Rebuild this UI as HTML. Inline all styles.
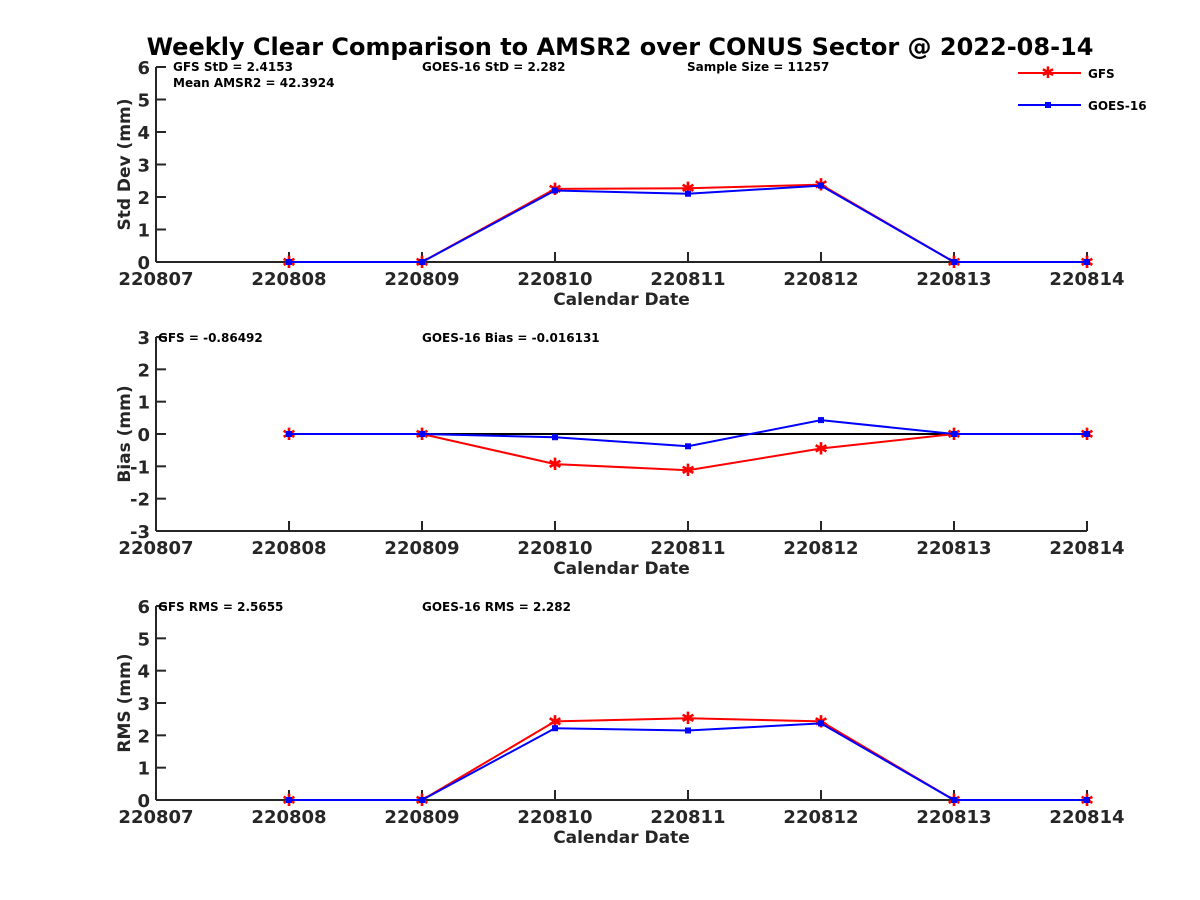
<!DOCTYPE html>
<html><head><meta charset="utf-8">
<style>
html,body{margin:0;padding:0;background:#fff;}
svg{display:block;font-family:"DejaVu Sans","Liberation Sans",sans-serif;font-weight:bold;}
</style></head>
<body>
<svg id="chart" width="1200" height="900" viewBox="0 0 1200 900">
<text x="620" y="55" text-anchor="middle" font-size="24" fill="#000">Weekly Clear Comparison to AMSR2 over CONUS Sector @ 2022-08-14</text>
<g>
<g>
<line x1="1018" y1="73" x2="1081" y2="73" stroke="#f00" stroke-width="2"/>
<text x="1048" y="78" text-anchor="middle" font-size="16" fill="#f00">✱</text>
<text x="1088" y="78" font-size="12" fill="#000">GFS</text>
</g>
<g>
<line x1="1018" y1="105" x2="1081" y2="105" stroke="#00f" stroke-width="2"/>
<rect x="1045" y="102" width="6" height="6" fill="#00f"/>
<text x="1088" y="110" font-size="12" fill="#000">GOES-16</text>
</g>
</g>
</svg>
<script>
const categories = ["220807","220808","220809","220810","220811","220812","220813","220814"];
const pointDates = ["220808","220809","220810","220811","220812","220813","220814"];
const stdGFS = [0,0,2.25,2.27,2.38,0,0];
const stdGOES = [0,0,2.2,2.1,2.35,0,0];
const biasGFS = [0,0,-0.93,-1.12,-0.45,0,0];
const biasGOES = [0,0,-0.1,-0.38,0.43,0,0];
const rmsGFS = [0,0,2.43,2.53,2.43,0,0];
const rmsGOES = [0,0,2.22,2.15,2.37,0,0];
const stdTicks = [0,1,2,3,4,5,6];
const biasTicks = [-3,-2,-1,0,1,2,3];
const rmsTicks = [0,1,2,3,4,5,6];

const NS = "http://www.w3.org/2000/svg";
const svg = document.getElementById('chart');
const X0 = 156, X1 = 1087;
function xScale(d){ return X0 + categories.indexOf(d) * (X1 - X0) / (categories.length - 1); }
function mk(tag, attrs, parent){ const e = document.createElementNS(NS, tag); for (const k in attrs) e.setAttribute(k, attrs[k]); (parent||svg).appendChild(e); return e; }

function panel(name, top, bottom, ymin, ymax, ticks, ylabel, gfs, goes, notes, zeroLine){
  const g = mk('g', {});
  
  
  const y = v => bottom - (v - ymin) / (ymax - ymin) * (bottom - top);
  const ax = '#262626';
  const ya = mk('line', {x1:X0, y1:top, x2:X0, y2:bottom, stroke:ax, 'stroke-width':2}, g);
  
  
  const xa = mk('line', {x1:X0, y1:bottom, x2:X1, y2:bottom, stroke:ax, 'stroke-width':2}, g);
  
  
  ticks.forEach(t => {
    mk('line', {x1:X0, y1:y(t), x2:X0+10, y2:y(t), stroke:ax, 'stroke-width':2}, g);
    const tl = mk('text', {x:X0-6, y:y(t)+7, 'text-anchor':'end', 'font-size':18, fill:ax}, g);
    tl.textContent = t;
    
    
  });
  categories.forEach(c => {
    mk('line', {x1:xScale(c), y1:bottom, x2:xScale(c), y2:bottom-10, stroke:ax, 'stroke-width':2}, g);
    const tl = mk('text', {x:xScale(c), y:bottom+23, 'text-anchor':'middle', 'font-size':18, fill:ax}, g);
    tl.textContent = c;
    
    
  });
  const xt = mk('text', {x:(X0+X1)/2, y:bottom+43, 'text-anchor':'middle', 'font-size':17, fill:ax}, g);
  xt.textContent = 'Calendar Date';
  
  
  const cy = (top+bottom)/2;
  const yt = mk('text', {x:130, y:cy, 'text-anchor':'middle', 'font-size':17, fill:ax, transform:`rotate(-90 130 ${cy})`}, g);
  yt.textContent = ylabel;
  
  
  if (zeroLine){
    const z = mk('line', {x1:xScale(pointDates[0]), y1:y(0), x2:X1, y2:y(0), stroke:'#000', 'stroke-width':2}, g);
    
    
  }
  const series = [[gfs,'#f00','gfs'],[goes,'#00f','goes16']];
  series.forEach(([vals,col,sn]) => {
    const pts = vals.map((v,i) => xScale(pointDates[i]) + ',' + y(v)).join(' ');
    const pl = mk('polyline', {points:pts, fill:'none', stroke:col, 'stroke-width':2}, g);
    
    
    vals.forEach((v,i) => {
      const px = xScale(pointDates[i]), py = y(v);
      let m;
      if (sn === 'gfs'){
        m = mk('text', {x:px, y:py+6, 'text-anchor':'middle', 'font-size':17, fill:col}, g);
        m.textContent = '✱';
      } else {
        m = mk('rect', {x:px-3, y:py-3, width:6, height:6, fill:col}, g);
      }
      
      
    });
  });
  notes.forEach(n => {
    const t = mk('text', {x:n[0], y:n[1], 'font-size':12, fill:'#000'}, g);
    t.textContent = n[2];
    
    
  });
}
panel('std', 67, 262, 0, 6, stdTicks, 'Std Dev (mm)', stdGFS, stdGOES,
  [[173,71,'GFS StD = 2.4153'],[173,87,'Mean AMSR2 = 42.3924'],[422,71,'GOES-16 StD = 2.282'],[687,71,'Sample Size = 11257']], false);
panel('bias', 337, 531, -3, 3, biasTicks, 'Bias (mm)', biasGFS, biasGOES,
  [[158,342,'GFS = -0.86492'],[422,342,'GOES-16 Bias  = -0.016131']], true);
panel('rms', 606, 800, 0, 6, rmsTicks, 'RMS (mm)', rmsGFS, rmsGOES,
  [[158,611,'GFS RMS = 2.5655'],[422,611,'GOES-16 RMS = 2.282']], false);
</script>
</body></html>
